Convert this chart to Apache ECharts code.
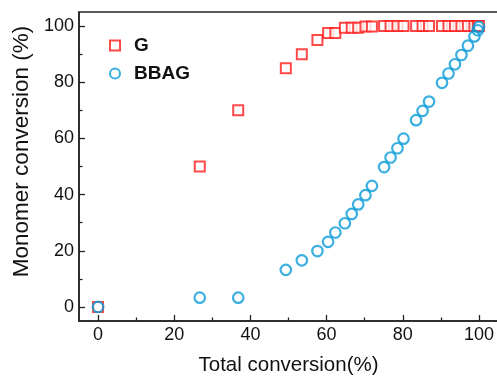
<!DOCTYPE html>
<html>
<head>
<meta charset="utf-8">
<script src="https://cdn.jsdelivr.net/npm/echarts@6/dist/echarts.min.js"></script>
<style>html,body{margin:0;padding:0;background:#fff}#c{width:497px;height:376px}</style>
</head>
<body>
<div id="c"></div>
<script>
// Shared total-conversion values (x)
const totalConv = [0, 26.7, 36.8, 49.3, 53.5, 57.6, 60.4, 62.3, 64.8, 66.6, 68.3, 70.2, 71.9, 75.1, 76.8, 78.6, 80.2, 83.5, 85.2, 86.9, 90.3, 92.0, 93.7, 95.4, 97.1, 98.8, 99.7, 100];
// Monomer conversion of G
const gConv = [0, 50, 70, 85, 90, 95, 97.5, 97.5, 99.4, 99.4, 99.4, 99.8, 99.8, 100, 100, 100, 100, 100, 100, 100, 100, 100, 100, 100, 100, 100, 100, 100];
// Monomer conversion of BBAG
const bbagConv = [0, 3.3, 3.3, 13.2, 16.6, 19.9, 23.2, 26.5, 29.8, 33.1, 36.5, 39.8, 43.1, 49.8, 53.2, 56.5, 59.9, 66.5, 69.8, 73.1, 79.8, 83.1, 86.4, 89.7, 93.0, 96.3, 98.5, 99.7];
const majorTicks = [0, 20, 40, 60, 80, 100];
const minorTicks = [10, 30, 50, 70, 90];

const RED = '#ff1a1a';
const BLUE = '#0a9bd8';
const FONT = 'Liberation Sans, Arial, sans-serif';
const AX = '#222';

function mkAxis(extra, minor) {
  return Object.assign({
    type: 'value', min: -5, max: 105,
    axisLine: {show: !minor, onZero: false, lineStyle: {color: AX, width: 1.5}},
    axisTick: {show: true, inside: true, length: minor ? 3.5 : 6, customValues: minor ? minorTicks : majorTicks,
               lineStyle: {color: AX, width: 1.3}},
    splitLine: {show: false},
    axisLabel: minor ? {show: false} : {
      show: true, customValues: majorTicks, fontSize: 18, fontFamily: FONT, color: '#111', margin: 5
    }
  }, extra);
}

const chart = echarts.init(document.getElementById('c'), null, {renderer: 'canvas'});
chart.setOption({
  animation: false,
  backgroundColor: '#fff',
  grid: {left: 79, top: 12, right: -1, bottom: 55, show: true, borderColor: AX, borderWidth: 1.5,
         containLabel: false, outerBoundsMode: 'none'},
  legend: {
    orient: 'vertical', left: 104, top: 31, itemWidth: 10, itemHeight: 10, itemGap: 9,
    textStyle: {fontFamily: FONT, fontSize: 19, fontWeight: 'bold', color: '#111', padding: [0, 0, 0, 9], lineHeight: 19},
    data: [{name: 'G', icon: 'rect'}, {name: 'BBAG', icon: 'circle'}]
  },
  xAxis: [
    mkAxis({name: 'Total conversion(%)', nameLocation: 'middle', nameGap: 34,
            nameTextStyle: {fontFamily: FONT, fontSize: 20.5, color: '#111'}}, false),
    mkAxis({position: 'bottom'}, true)
  ],
  yAxis: [
    mkAxis({name: 'Monomer conversion (%)', nameLocation: 'middle', nameGap: 43,
            nameTextStyle: {fontFamily: FONT, fontSize: 22.5, color: '#111', padding: [0, 0, 0, 30]}}, false),
    mkAxis({position: 'left'}, true)
  ],
  series: [
    {
      name: 'G', type: 'scatter', symbol: 'rect', symbolSize: 10,
      itemStyle: {color: '#fff', borderColor: RED, borderWidth: 2},
      data: totalConv.map((x, i) => [x, gConv[i]]), z: 2
    },
    {
      name: 'BBAG', type: 'scatter', symbol: 'circle', symbolSize: 10.5,
      itemStyle: {color: 'rgba(255,255,255,0)', borderColor: BLUE, borderWidth: 2.2},
      data: totalConv.map((x, i) => [x, bbagConv[i]]), z: 3
    }
  ]
});
</script>
</body>
</html>
